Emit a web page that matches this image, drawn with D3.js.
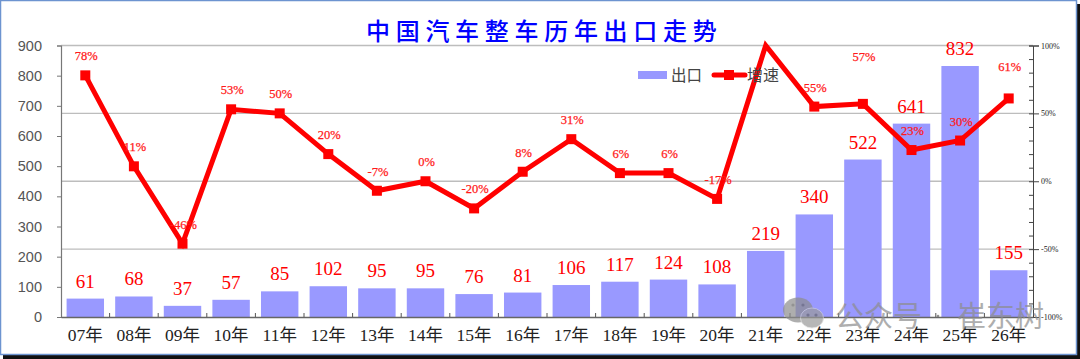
<!DOCTYPE html>
<html>
<head>
<meta charset="utf-8">
<script src="https://cdnjs.cloudflare.com/ajax/libs/d3/7.8.5/d3.min.js"></script>
<style>
  html, body { margin: 0; padding: 0; background: #fff; overflow: hidden; }
  svg { display: block; }
</style>
</head>
<body>
<div id="chart"></div>
<script>
const title = "中国汽车整车历年出口走势";
const years = ["07年","08年","09年","10年","11年","12年","13年","14年","15年","16年","17年","18年","19年","20年","21年","22年","23年","24年","25年","26年"];
const exportsVol = [61,68,37,57,85,102,95,95,76,81,106,117,124,108,219,340,522,641,832,155];
const growth = [78,11,-46,53,50,20,-7,0,-20,7,31,6,6,-13,100,55,57,23,30,61];
const growthLabels = ["78%","11%","-46%","53%","50%","20%","-7%","0%","-20%","8%","31%","6%","6%","-17%","","55%","57%","23%","30%","61%"];
const leftTicks = [0,100,200,300,400,500,600,700,800,900];
const rightTicks = [-100,-50,0,50,100];

const width = 1080, height = 359;
const margin = {top: 45.5, right: 47, bottom: 42, left: 61};
const serif = '"Liberation Serif", "Noto Sans CJK SC", serif';
const sans = '"Liberation Sans", sans-serif';
const cjk = '"Noto Sans CJK SC", sans-serif';

// labels the original moved by hand, pixels above the usual place
const labelNudge = {"23年": 28, "26年": 12};

const svg = d3.select("#chart").append("svg")
    .attr("width", width)
    .attr("height", height);

// frame of the pasted picture
svg.append("rect").attr("x", 3).attr("y", 4).attr("width", 1077).attr("height", 355).attr("fill", "#111");
svg.append("rect").attr("x", 0.5).attr("y", 0.5).attr("width", 1076).attr("height", 354)
    .attr("fill", "#fff").attr("stroke", "#6d94d0").attr("stroke-width", 1.5);

const x = d3.scaleBand()
    .domain(years)
    .range([margin.left, width - margin.right])
    .paddingInner(0.23)
    .paddingOuter(0.115);

const xTicks = d3.scaleBand().domain(years).range([margin.left, width - margin.right]);

const y = d3.scaleLinear().domain([0, 900]).range([height - margin.bottom, margin.top]);
const yRight = d3.scaleLinear().domain([-100, 100]).range([height - margin.bottom, margin.top]);

// grid follows the right axis
svg.append("g")
    .selectAll("line")
    .data([-50, 0, 50, 100])
    .join("line")
    .attr("x1", margin.left)
    .attr("x2", width - margin.right)
    .attr("y1", d => yRight(d))
    .attr("y2", d => yRight(d))
    .attr("stroke", "#bdbdbd")
    .attr("stroke-width", 1.4);

// bars
svg.append("g")
    .selectAll("rect")
    .data(exportsVol)
    .join("rect")
    .attr("x", (d, i) => x(years[i]))
    .attr("y", d => y(d))
    .attr("width", x.bandwidth())
    .attr("height", d => y(0) - y(d))
    .attr("fill", "#9999ff");

// left axis
const axisLeft = svg.append("g")
    .attr("transform", `translate(${margin.left},0)`)
    .call(d3.axisLeft(y).tickValues(leftTicks).tickSize(4).tickPadding(15));
axisLeft.selectAll("text").attr("font-family", sans).attr("font-size", 14.5).attr("fill", "#555");
axisLeft.selectAll("line, path").attr("stroke", "#777");
axisLeft.select("path").attr("stroke-width", 1.2);

// right axis, minor ticks every 10%
const axisRightMinor = svg.append("g")
    .attr("transform", `translate(${width - margin.right},0)`)
    .call(d3.axisLeft(yRight).ticks(20).tickSize(4).tickFormat(""));
axisRightMinor.selectAll("line, path").attr("stroke", "#444");
const axisRight = svg.append("g")
    .attr("transform", `translate(${width - margin.right},0)`)
    .call(d3.axisRight(yRight).tickValues(rightTicks).tickSize(6).tickPadding(2).tickFormat(d => d + "%"));
axisRight.selectAll("text").attr("font-family", serif).attr("font-size", 8).attr("fill", "#222");
axisRight.selectAll("line, path").attr("stroke", "#444");

// bottom axis
const axisBottom = svg.append("g")
    .attr("transform", `translate(0,${height - margin.bottom})`)
    .call(d3.axisBottom(xTicks).tickSize(0).tickPadding(12));
axisBottom.selectAll("text").attr("font-family", serif).attr("font-size", 17.5).attr("fill", "#222");
axisBottom.select("path").attr("stroke", "#666").attr("stroke-width", 1.4);
svg.append("g")
    .selectAll("line")
    .data(years.slice(1))
    .join("line")
    .attr("x1", d => xTicks(d))
    .attr("x2", d => xTicks(d))
    .attr("y1", y(0))
    .attr("y2", y(0) - 4)
    .attr("stroke", "#555");

// bar labels
svg.append("g")
    .selectAll("text")
    .data(exportsVol)
    .join("text")
    .attr("x", (d, i) => x(years[i]) + x.bandwidth() / 2)
    .attr("y", d => y(d) - 11)
    .attr("text-anchor", "middle")
    .attr("font-family", serif)
    .attr("font-size", 19)
    .attr("fill", "#ff0000")
    .text(d => d);

// growth line
const line = d3.line()
    .x((d, i) => xTicks(years[i]) + xTicks.bandwidth() / 2)
    .y(d => yRight(d));

svg.append("path")
    .datum(growth)
    .attr("fill", "none")
    .attr("stroke", "#ff0000")
    .attr("stroke-width", 5)
    .attr("stroke-linejoin", "miter")
    .attr("d", line);

// the 21 point is off the top of the axis so it has no marker
svg.append("g")
    .selectAll("rect")
    .data(growth)
    .join("rect")
    .attr("display", d => d >= 100 ? "none" : null)
    .attr("x", (d, i) => xTicks(years[i]) + xTicks.bandwidth() / 2 - 5)
    .attr("y", d => yRight(d) - 5)
    .attr("width", 10)
    .attr("height", 10)
    .attr("fill", "#ff0000");

// growth labels
svg.append("g")
    .selectAll("text")
    .data(growthLabels)
    .join("text")
    .attr("x", (d, i) => xTicks(years[i]) + xTicks.bandwidth() / 2 + 1)
    .attr("y", (d, i) => yRight(growth[i]) - 15 - (labelNudge[years[i]] || 0))
    .attr("text-anchor", "middle")
    .attr("font-family", serif)
    .attr("font-size", 12.5)
    .attr("fill", "#ff1a1a")
    .attr("stroke", "#ff1a1a")
    .attr("stroke-width", 0.25)
    .text(d => d);

// title
svg.append("text")
    .attr("x", 366)
    .attr("y", 40)
    .attr("font-family", cjk)
    .attr("font-size", 24)
    .attr("font-weight", 500)
    .attr("letter-spacing", 5.7)
    .attr("fill", "#0000ff")
    .text(title);

// legend
svg.append("rect").attr("x", 638).attr("y", 71).attr("width", 29).attr("height", 8).attr("fill", "#9999ff");
svg.append("text").attr("x", 671).attr("y", 81).attr("font-family", cjk).attr("font-size", 15.5).attr("fill", "#444").text("出口");
svg.append("line").attr("x1", 714).attr("x2", 745).attr("y1", 75).attr("y2", 75).attr("stroke", "#ff0000").attr("stroke-width", 5).attr("stroke-linecap", "round");
svg.append("rect").attr("x", 724).attr("y", 70).attr("width", 10).attr("height", 10).attr("fill", "#ff0000");
svg.append("text").attr("x", 747).attr("y", 81).attr("font-family", cjk).attr("font-size", 16).attr("fill", "#444").text("增速");

// watermark
const wm = svg.append("g").attr("opacity", 0.7);
wm.append("ellipse").attr("cx", 798).attr("cy", 310).attr("rx", 15).attr("ry", 12.5).attr("fill", "#8d8d8d");
wm.append("ellipse").attr("cx", 812).attr("cy", 318).attr("rx", 11.5).attr("ry", 10).attr("fill", "#999").attr("stroke", "#d8d8d8").attr("stroke-width", 0.8);
wm.selectAll("circle.eye")
    .data([[793, 305], [803, 305], [808, 315], [816, 315]])
    .join("circle")
    .attr("class", "eye")
    .attr("cx", d => d[0])
    .attr("cy", d => d[1])
    .attr("r", 1.6)
    .attr("fill", "#666");
wm.append("text").attr("x", 835).attr("y", 327).attr("font-family", cjk).attr("font-size", 29).attr("fill", "#8d8d8d").text("公众号");
wm.append("text").attr("x", 957).attr("y", 327).attr("font-family", cjk).attr("font-size", 29).attr("fill", "#8d8d8d").text("崔东树");
wm.append("circle").attr("cx", 938).attr("cy", 316).attr("r", 1.3).attr("fill", "#666");
</script>
</body>
</html>
